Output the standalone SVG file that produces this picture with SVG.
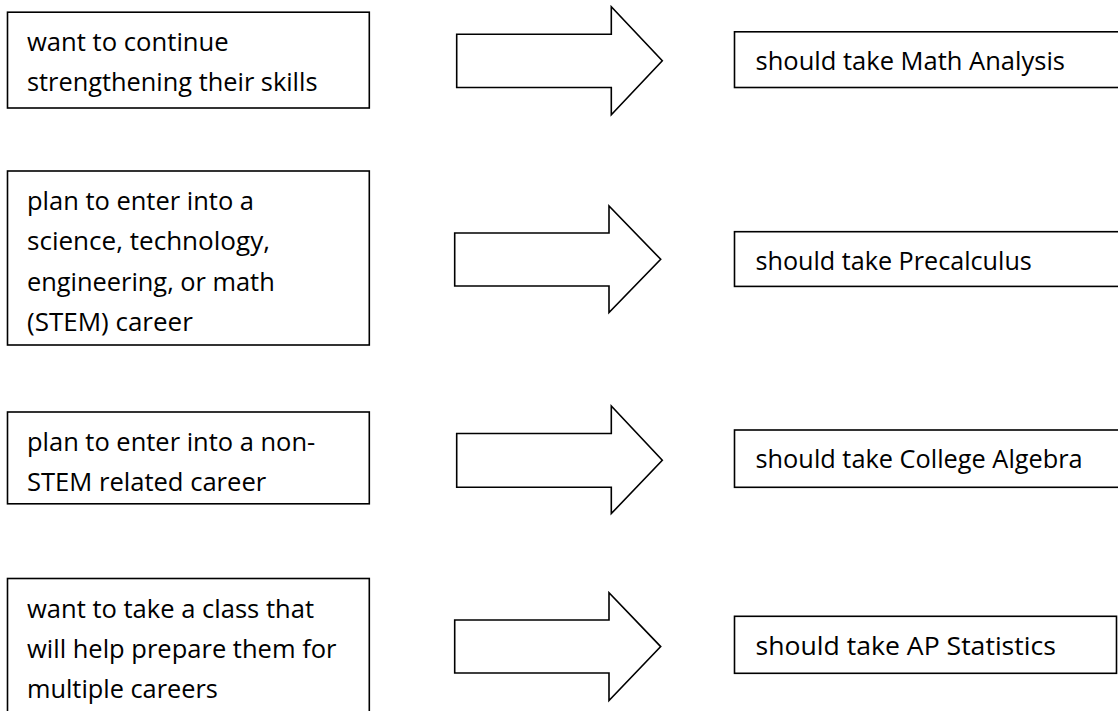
<svg xmlns="http://www.w3.org/2000/svg" width="1118" height="711" viewBox="0 0 1118 711">
<style>
.box{fill:#ffffff;stroke:#000000;stroke-width:1.6}
.arrow{fill:#ffffff;stroke:#000000;stroke-width:1.6;stroke-linejoin:miter}
.t{font-family:"Open Sans","Noto Sans","Liberation Sans",sans-serif;font-size:25.5px;fill:#000000}
</style>
<rect width="1118" height="711" fill="#ffffff"/>
<g id="connectors">
<polygon class="arrow" points="456.7,34.3 611.3,34.3 611.3,6.8 662.3,60.7 611.3,114.7 611.3,87.5 456.7,87.5"/>
<polygon class="arrow" points="454.7,233 609,233 609,206 660.7,259.3 609,312.5 609,286 454.7,286"/>
<polygon class="arrow" points="456.7,433.5 611.3,433.5 611.3,406 662.3,460.3 611.3,513.6 611.3,487.3 456.7,487.3"/>
<polygon class="arrow" points="454.7,620 609,620 609,592.8 660.7,646.6 609,700.5 609,673 454.7,673"/>
</g>
<g id="cond-1">
<rect class="box" x="7.5" y="12.2" width="361.8" height="95.8"/>
<text class="t" x="27" y="50.7" textLength="201.7" lengthAdjust="spacingAndGlyphs">want to continue</text>
<text class="t" x="27" y="91" textLength="290.5" lengthAdjust="spacingAndGlyphs">strengthening their skills</text>
</g>
<g id="cond-2">
<rect class="box" x="7.5" y="171" width="361.8" height="174"/>
<text class="t" x="27" y="209.8" textLength="227" lengthAdjust="spacingAndGlyphs">plan to enter into a</text>
<text class="t" x="27" y="250.2" textLength="243" lengthAdjust="spacingAndGlyphs">science, technology,</text>
<text class="t" x="27" y="290.6" textLength="247.7" lengthAdjust="spacingAndGlyphs">engineering, or math</text>
<text class="t" x="27" y="331" textLength="165.8" lengthAdjust="spacingAndGlyphs">(STEM) career</text>
</g>
<g id="cond-3">
<rect class="box" x="7.5" y="412" width="361.8" height="91.8"/>
<text class="t" x="27" y="450.8" textLength="288.2" lengthAdjust="spacingAndGlyphs">plan to enter into a non-</text>
<text class="t" x="27" y="491.2" textLength="239.2" lengthAdjust="spacingAndGlyphs">STEM related career</text>
</g>
<g id="cond-4">
<rect class="box" x="7.5" y="578.5" width="361.8" height="150"/>
<text class="t" x="27" y="617.5" textLength="287" lengthAdjust="spacingAndGlyphs">want to take a class that</text>
<text class="t" x="27" y="657.9" textLength="309.5" lengthAdjust="spacingAndGlyphs">will help prepare them for</text>
<text class="t" x="27" y="698.3" textLength="190.9" lengthAdjust="spacingAndGlyphs">multiple careers</text>
</g>
<g id="course-1">
<rect class="box" x="734.5" y="31.8" width="400" height="55.7"/>
<text class="t" x="755.5" y="70.2" textLength="309.5" lengthAdjust="spacingAndGlyphs">should take Math Analysis</text>
</g>
<g id="course-2">
<rect class="box" x="734.5" y="231.7" width="400" height="54.7"/>
<text class="t" x="755.5" y="270.2" textLength="276.3" lengthAdjust="spacingAndGlyphs">should take Precalculus</text>
</g>
<g id="course-3">
<rect class="box" x="734.5" y="430" width="400" height="57.3"/>
<text class="t" x="755.5" y="468.4" textLength="327.2" lengthAdjust="spacingAndGlyphs">should take College Algebra</text>
</g>
<g id="course-4">
<rect class="box" x="734.5" y="616.3" width="382" height="57"/>
<text class="t" x="755.5" y="654.8" textLength="300.4" lengthAdjust="spacingAndGlyphs">should take AP Statistics</text>
</g>
</svg>
